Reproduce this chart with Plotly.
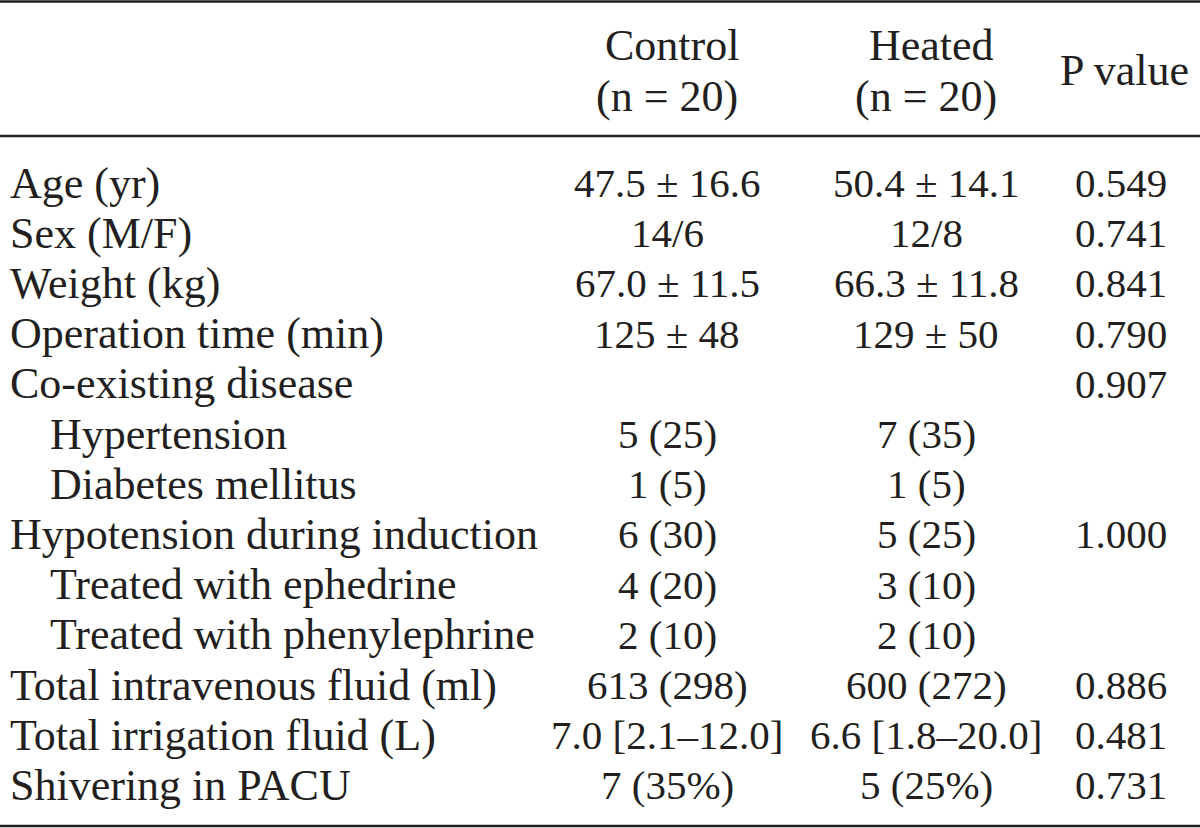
import plotly.graph_objects as go

# ---- data ----
headers = ["Control", "Heated", "P value"]
subheaders = ["(n = 20)", "(n = 20)", ""]
labels = ["Age (yr)", "Sex (M/F)", "Weight (kg)", "Operation time (min)",
          "Co-existing disease", "Hypertension", "Diabetes mellitus",
          "Hypotension during induction", "Treated with ephedrine",
          "Treated with phenylephrine", "Total intravenous fluid (ml)",
          "Total irrigation fluid (L)", "Shivering in PACU"]
indented = [False, False, False, False, False, True, True, False, True, True,
            False, False, False]
control = ["47.5 ± 16.6", "14/6", "67.0 ± 11.5", "125 ± 48", "", "5 (25)",
           "1 (5)", "6 (30)", "4 (20)", "2 (10)", "613 (298)",
           "7.0 [2.1–12.0]", "7 (35%)"]
heated = ["50.4 ± 14.1", "12/8", "66.3 ± 11.8", "129 ± 50", "", "7 (35)",
          "1 (5)", "5 (25)", "3 (10)", "2 (10)", "600 (272)",
          "6.6 [1.8–20.0]", "5 (25%)"]
pvalues = ["0.549", "0.741", "0.841", "0.790", "0.907", "", "", "1.000", "",
           "", "0.886", "0.481", "0.731"]

# ---- layout parameters ----
W, H = 1200, 828
FONT = "Liberation Serif, Times New Roman, serif"
FS_LABEL = 44
FS_VALUE = 41
COLOR = "#231f20"
label_x = 8
indent_x = 48
col_x = [667, 926, 1121]
row_y0 = 183
row_dy = 50.2
head_y1, head_y2, p_head_y = 45, 96, 70

fig = go.Figure()
annotations = []


def add_text(x, y, text, anchor="center", size=FS_VALUE):
    if not text:
        return
    annotations.append(dict(
        x=x, y=y, xref="x", yref="y", text=text, showarrow=False,
        xanchor=anchor, yanchor="middle",
        font=dict(family=FONT, size=size, color=COLOR)))


# headers
for i, (h, s) in enumerate(zip(headers, subheaders)):
    if s:
        add_text(col_x[i] + 5, head_y1, h, size=FS_LABEL)
        add_text(col_x[i], head_y2, s, size=FS_LABEL)
    else:
        add_text(col_x[i] + 3, p_head_y, h, size=FS_LABEL)

# body
for r, lab in enumerate(labels):
    y = row_y0 + r * row_dy
    add_text(indent_x if indented[r] else label_x, y, lab, anchor="left",
             size=FS_LABEL)
    add_text(col_x[0], y, control[r])
    add_text(col_x[1], y, heated[r])
    add_text(col_x[2], y, pvalues[r])

# rules
shapes = []
for y, w in [(1.5, 2.5), (136, 2.5), (826, 2.5)]:
    shapes.append(dict(type="line", xref="x", yref="y", x0=0, x1=W, y0=y, y1=y,
                       line=dict(color=COLOR, width=w)))

fig.add_trace(go.Scatter(x=[0, W], y=[0, H], mode="markers",
                         marker=dict(opacity=0), hoverinfo="skip",
                         showlegend=False))

fig.update_layout(
    width=W, height=H,
    margin=dict(l=0, r=0, t=0, b=0),
    paper_bgcolor="white", plot_bgcolor="white",
    xaxis=dict(range=[0, W], visible=False, fixedrange=True),
    yaxis=dict(range=[H, 0], visible=False, fixedrange=True),
    annotations=annotations, shapes=shapes,
    showlegend=False,
)

fig.write_html("out.html",
               config={"displayModeBar": False, "staticPlot": True},
               post_script="document.body.style.margin='0';"
                           "document.body.style.overflow='hidden';")
